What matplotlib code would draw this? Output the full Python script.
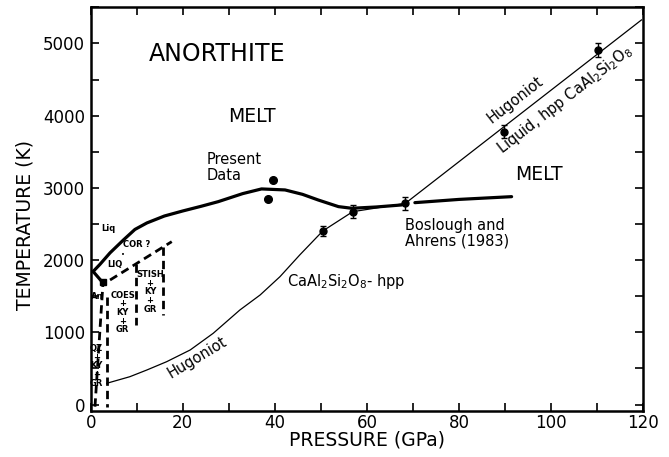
import matplotlib
matplotlib.use("Agg")
import matplotlib.pyplot as plt
import numpy as np

# ---- data ----
melt_P = [0.5, 2.0, 4.2, 7.1, 9.6, 12.2, 16.0, 20.0, 24.0, 27.7, 33.0, 37.1, 42.2, 46.0, 49.4, 53.8, 56.7, 62.0, 67.5]
melt_T = [1840, 1940, 2100, 2278, 2424, 2514, 2610, 2680, 2745, 2809, 2920, 2985, 2971, 2910, 2832, 2740, 2717, 2735, 2763]

melt2_P = [70.4, 80.0, 91.4]
melt2_T = [2795, 2840, 2878]

hug_P = [3.5, 8.5, 12.2, 16.5, 21.6, 26.6, 32.4, 36.8, 41.1, 45.4, 50.4, 56.9, 68.3, 119.6]
hug_T = [294, 385, 478, 593, 755, 986, 1309, 1517, 1770, 2071, 2403, 2670, 2784, 5325]

shock_P = [50.4, 56.9, 68.3, 89.8, 110.2]
shock_T = [2403, 2670, 2784, 3778, 4910]
shock_err = [70, 90, 85, 93, 93]

present_P = [39.5, 38.5]
present_T = [3109, 2846]

# dashed phase boundaries (P, T pairs)
dash_lines = [
    ([3.47, 3.47], [1493, -30]),
    ([0.93, 2.67], [-30, 1683]),
    ([4.2, 17.6], [1724, 2255]),
    ([9.84, 9.84], [1950, 1101]),
    ([15.6, 15.6], [2176, 1240]),
]
solid_short_P = [0.57, 2.74]
solid_short_T = [1839, 1679]

xticks = [0, 20, 40, 60, 80, 100, 120]
yticks = [0, 1000, 2000, 3000, 4000, 5000]

fig = plt.figure(figsize=(6.69, 4.57), dpi=100)
ax = fig.add_axes([90.7/669, 1-410.5/457, (643.3-90.7)/669, (410.5-7.3)/457])

ax.set_xlim(0, 120)
ax.set_ylim(-83, 5500)

# melting curves
ax.plot(melt_P, melt_T, color='black', lw=2.3, solid_capstyle='round')
ax.plot(melt2_P, melt2_T, color='black', lw=2.3, solid_capstyle='round')
ax.plot(solid_short_P, solid_short_T, color='black', lw=2.3)

# hugoniot
ax.plot(hug_P, hug_T, color='black', lw=0.9)

# dashed phase boundaries
for px, pt in dash_lines:
    ax.plot(px, pt, color='black', lw=2.0, linestyle=(0, (3.0, 1.8)))
ax.plot([2.7], [1700], marker='s', color='black', ms=4)

# data points
ax.errorbar(shock_P, shock_T, yerr=shock_err, fmt='o', color='black', ms=5,
            elinewidth=1.0, capsize=2.5, capthick=1.0)
ax.plot(present_P, present_T, 'o', color='black', ms=5.5)

# ---- texts ----
ax.text(27.4, 4855, 'ANORTHITE', fontsize=17, ha='center', va='center')
ax.text(35.0, 3989, 'MELT', fontsize=13.5, ha='center', va='center')
ax.text(97.4, 3178, 'MELT', fontsize=13.5, ha='center', va='center')
ax.text(25.2, 3280, 'Present\nData', fontsize=10.5, ha='left', va='center', linespacing=1.05)
ax.text(42.6, 1710, r'CaAl$_2$Si$_2$O$_8$- hpp', fontsize=10.5, ha='left', va='center')
ax.text(68.3, 2370, 'Boslough and\nAhrens (1983)', fontsize=10.5, ha='left', va='center', linespacing=1.05)
ax.text(23.1, 645, 'Hugoniot', fontsize=10.5, ha='center', va='center', rotation=31,
        rotation_mode='anchor')
ax.text(92.3, 4217, 'Hugoniot', fontsize=10.5, ha='center', va='center', rotation=37.8,
        rotation_mode='anchor')
ax.text(103.0, 4217, r'Liquid, hpp CaAl$_2$Si$_2$O$_8$', fontsize=10.5, ha='center', va='center',
        rotation=37.8, rotation_mode='anchor')

small = dict(fontsize=6, ha='center', va='center', fontweight='bold')
ax.text(3.9, 2440, 'Liq', **small)
ax.text(9.9, 2209, 'COR ?', **small)
ax.text(7.1, 2070, '•', fontsize=5, ha='center', va='center')
ax.text(5.3, 1932, 'LIQ', **small)
ax.text(1.5, 1493, 'An', **small)
ax.text(6.95, 1275, 'COES\n+\nKY\n+\nGR', linespacing=0.95, **small)
ax.text(12.9, 1560, 'STISH\n+\nKY\n+\nGR', linespacing=0.95, **small)
ax.text(1.3, 535, 'QZ\n+\nKY\n+\nGR', linespacing=0.95, **small)

# ---- axes styling ----
for s in ax.spines.values():
    s.set_linewidth(1.8)
ax.set_xticks(xticks)
ax.set_yticks(yticks)
ax.set_xticks(np.arange(0, 121, 10), minor=True)
ax.set_yticks(np.arange(0, 5501, 500), minor=True)
ax.tick_params(which='both', direction='in', top=True, right=True, length=6, width=1.2)
ax.tick_params(axis='x', which='major', labelsize=12, pad=2.5)
ax.tick_params(axis='y', which='major', labelsize=12, pad=4)

ax.set_xlabel('PRESSURE (GPa)', fontsize=13.5, va='center')
ax.set_ylabel('TEMPERATURE (K)', fontsize=13.5, va='center', ha='center')
ax.xaxis.set_label_coords(0.5, -0.074)
ax.yaxis.set_label_coords(-0.118, 0.46)

fig.savefig('out.png', dpi=100)
